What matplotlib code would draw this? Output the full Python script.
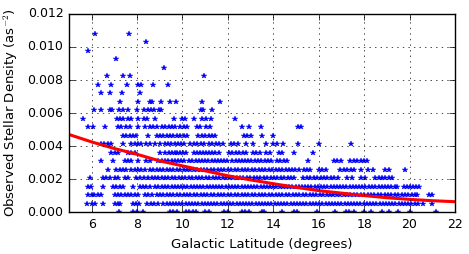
import matplotlib
matplotlib.use("Agg")
import matplotlib.pyplot as plt

# observed densities come in discrete steps (star counts per unit area)
density_levels = [0.0, 0.000515, 0.00103, 0.001545, 0.00206, 0.002575, 0.00309,
                  0.003605, 0.00412, 0.004635, 0.00515, 0.005665, 0.00618,
                  0.006695, 0.00721, 0.007725, 0.00824, 0.008755, 0.00927,
                  0.009785, 0.0103, 0.010815]

# galactic latitude of each field, grouped by density level
lat_lv0 = [7.2, 7.82, 8.0, 8.27, 9.45, 9.6, 9.75, 10.15, 10.3, 10.45, 10.6, 11.0, 11.15,
           11.85, 12.0, 12.6, 12.75, 12.95, 13.5, 13.6, 14.4, 14.9, 15.05, 15.91, 16.7,
           17.2, 17.35, 17.55, 18.0, 18.3, 18.8, 19.1, 19.5, 20.0, 21.15]
lat_lv1 = [5.8, 6.0, 6.15, 6.5, 7.05, 7.16, 7.27, 7.82, 7.97, 8.1, 8.45, 8.6, 8.75, 8.93,
           9.16, 9.3, 9.44, 9.58, 9.72, 9.86, 10.0, 10.14, 10.28, 10.42, 10.56, 10.7,
           10.84, 10.98, 11.12, 11.26, 11.4, 11.54, 11.68, 11.82, 11.96, 12.1, 12.24,
           12.38, 12.52, 12.66, 12.8, 12.94, 13.08, 13.22, 13.36, 13.5, 13.64, 13.78,
           13.92, 14.06, 14.2, 14.34, 14.48, 14.62, 14.76, 14.9, 15.04, 15.18, 15.32,
           15.46, 15.6, 15.74, 15.88, 16.02, 16.16, 16.3, 16.44, 16.58, 16.72, 16.86,
           17.0, 17.14, 17.28, 17.42, 17.56, 17.7, 17.84, 17.98, 18.12, 18.26, 18.4,
           18.54, 18.68, 18.82, 18.96, 19.1, 19.24, 19.38, 19.52, 19.66, 19.8, 19.94,
           20.08, 20.22, 20.36, 20.6, 21.0]
lat_lv2 = [5.85, 6.0, 6.12, 6.3, 6.41, 7.01, 7.15, 7.3, 7.45, 7.6, 7.75, 7.9, 8.04, 8.34,
           8.49, 8.65, 8.86, 9.01, 9.16, 9.3, 9.45, 9.6, 9.75, 9.9, 10.05, 10.2, 10.35,
           10.5, 10.65, 10.8, 10.95, 11.1, 11.25, 11.4, 11.55, 11.7, 11.85, 12.0, 12.15,
           12.3, 12.45, 12.6, 12.75, 12.9, 13.05, 13.2, 13.35, 13.5, 13.65, 13.8, 13.95,
           14.1, 14.25, 14.4, 14.55, 14.7, 14.85, 15.0, 15.15, 15.3, 15.45, 15.6, 15.75,
           15.9, 16.05, 16.2, 16.35, 16.5, 16.65, 16.8, 16.95, 17.1, 17.25, 17.4, 17.55,
           17.7, 17.85, 18.0, 18.15, 18.3, 18.45, 18.6, 18.75, 18.9, 19.05, 19.2, 19.35,
           19.5, 19.65, 19.8, 19.95, 20.1, 20.25, 20.34, 20.86, 21.0]
lat_lv3 = [5.82, 5.97, 6.5, 6.93, 7.08, 7.23, 7.38, 7.8, 8.12, 8.27, 8.41, 8.56, 8.79,
           8.93, 9.08, 9.23, 9.38, 9.52, 9.66, 9.8, 9.94, 10.08, 10.22, 10.36, 10.5,
           10.64, 10.78, 10.92, 11.06, 11.2, 11.34, 11.48, 11.62, 11.76, 11.9, 12.04,
           12.18, 12.32, 12.46, 12.6, 12.74, 12.88, 13.02, 13.16, 13.3, 13.44, 13.58,
           13.72, 13.86, 14.0, 14.14, 14.28, 14.42, 14.56, 14.7, 14.84, 14.98, 15.12,
           15.26, 15.4, 15.54, 15.68, 15.82, 15.96, 16.1, 16.24, 16.38, 16.52, 16.66,
           16.8, 16.94, 17.08, 17.22, 17.36, 17.5, 17.64, 17.78, 17.92, 18.06, 18.2,
           18.34, 18.49, 18.64, 18.78, 18.92, 19.06, 19.2, 19.34, 19.45, 19.75, 19.89,
           20.03, 20.17, 20.3, 20.41]
lat_lv4 = [5.94, 6.49, 6.64, 6.79, 7.01, 7.16, 7.45, 7.6, 7.97, 8.12, 8.31, 8.49, 8.64,
           8.79, 8.93, 9.08, 9.23, 9.38, 9.53, 9.68, 9.83, 9.98, 10.13, 10.28, 10.43,
           10.58, 10.73, 10.88, 11.03, 11.18, 11.33, 11.48, 11.63, 11.78, 11.93, 12.08,
           12.23, 12.38, 12.53, 12.68, 12.83, 12.98, 13.13, 13.28, 13.43, 13.58, 13.73,
           13.88, 14.03, 14.18, 14.33, 14.48, 14.63, 14.78, 14.93, 15.33, 15.48, 15.63,
           15.78, 15.93, 16.08, 16.23, 16.38, 16.53, 16.68, 16.83, 17.26, 17.48, 17.85,
           18.04, 18.49, 18.64, 18.79, 18.94, 19.09, 19.24]
lat_lv5 = [6.74, 7.08, 7.23, 7.38, 7.53, 7.75, 7.9, 8.04, 8.19, 8.34, 8.56, 8.71, 8.86,
           9.01, 9.16, 9.3, 9.45, 9.6, 9.75, 9.9, 10.05, 10.2, 10.35, 10.5, 10.65, 10.8,
           10.95, 11.1, 11.25, 11.4, 11.55, 11.7, 11.85, 12.0, 12.15, 12.3, 12.45, 12.6,
           12.75, 12.9, 13.05, 13.2, 13.35, 13.5, 13.65, 13.8, 13.95, 14.1, 14.25, 14.4,
           14.55, 14.67, 14.82, 14.97, 15.12, 15.35, 15.5, 15.63, 16.0, 16.15, 16.3,
           16.96, 17.11, 17.26, 17.41, 17.56, 17.85, 18.19, 18.41, 18.93, 19.08, 19.82]
lat_lv6 = [6.41, 6.93, 7.45, 7.6, 7.75, 8.04, 8.41, 8.56, 8.93, 9.08, 9.23, 9.38, 9.52,
           9.66, 9.8, 9.94, 10.08, 10.3, 10.44, 10.58, 10.72, 10.86, 11.0, 11.14, 11.28,
           11.42, 11.56, 11.7, 11.84, 11.98, 12.2, 12.34, 12.48, 12.62, 12.76, 12.9,
           13.04, 13.18, 13.32, 13.46, 13.62, 13.75, 13.9, 14.15, 14.3, 14.45, 14.6,
           15.53, 16.67, 16.82, 16.97, 17.4, 17.55, 17.7, 17.85, 18.0, 18.13]
lat_lv7 = [6.86, 7.01, 7.16, 7.6, 7.75, 7.9, 9.01, 9.23, 9.39, 9.52, 9.65, 9.78, 9.91,
           10.04, 10.17, 10.5, 10.63, 10.76, 10.89, 11.02, 11.17, 11.3, 11.45, 11.6,
           12.06, 12.2, 12.35, 12.5, 12.65, 12.8, 13.1, 13.25, 13.4, 13.67, 13.85,
           14.27, 14.37, 14.92, 15.77]
lat_lv8 = [6.41, 6.56, 6.71, 6.86, 7.38, 7.75, 7.9, 8.04, 8.19, 8.41, 8.56, 8.79, 9.01,
           9.23, 9.35, 9.5, 9.65, 9.8, 9.95, 10.06, 10.35, 10.5, 10.65, 10.8, 10.95,
           11.17, 11.32, 11.47, 11.62, 11.77, 12.13, 12.28, 12.43, 12.8, 13.12, 13.7,
           13.97, 14.15, 14.42, 15.08, 16.0, 17.41]
lat_lv9 = [7.38, 7.53, 7.67, 7.82, 7.97, 8.49, 8.86, 9.01, 9.16, 9.3, 9.45, 9.6, 9.75,
           9.9, 10.05, 10.2, 10.7, 10.85, 11.0, 11.15, 11.3, 11.45, 12.7, 12.85, 13.0,
           13.5, 13.97]
lat_lv10 = [5.82, 6.04, 6.61, 7.16, 7.3, 7.53, 7.67, 8.04, 8.34, 8.56, 8.71, 8.86, 9.08,
            9.24, 9.39, 9.54, 9.69, 9.91, 10.06, 10.21, 10.65, 10.77, 11.02, 11.21,
            12.61, 12.95, 13.47, 15.1, 15.21]
lat_lv11 = [5.63, 7.1, 7.25, 7.4, 7.6, 7.72, 8.04, 8.3, 8.45, 8.79, 9.61, 9.98, 10.13,
            10.5, 10.87, 11.02, 11.24, 12.33]
lat_lv12 = [6.12, 6.43, 6.8, 6.9, 7.22, 7.36, 7.62, 8.0, 8.32, 8.5, 8.62, 8.75, 8.95,
            9.07, 10.8, 10.9, 11.32]
lat_lv13 = [7.25, 8.02, 8.55, 8.68, 9.07, 9.47, 9.71, 10.87, 11.65]
lat_lv14 = [6.43, 6.79, 7.33, 8.12]
lat_lv15 = [6.26, 6.85, 7.57, 8.06, 8.18, 8.7, 9.35]
lat_lv16 = [6.66, 7.39, 7.71, 10.93]
lat_lv17 = [9.2]
lat_lv18 = [7.08]
lat_lv19 = [5.85]
lat_lv20 = [8.38]
lat_lv21 = [6.16, 7.65]

lat_by_level = [lat_lv0, lat_lv1, lat_lv2, lat_lv3, lat_lv4, lat_lv5, lat_lv6, lat_lv7,
                lat_lv8, lat_lv9, lat_lv10, lat_lv11, lat_lv12, lat_lv13, lat_lv14,
                lat_lv15, lat_lv16, lat_lv17, lat_lv18, lat_lv19, lat_lv20, lat_lv21]

# fitted model
model_lat = [5, 6, 7, 8, 9, 10, 11, 12, 13, 14, 15, 16, 17, 18, 19, 20, 21, 22]
model_dens = [0.0047, 0.00425, 0.00385, 0.0035, 0.0031, 0.0028, 0.0025, 0.0022,
              0.00195, 0.00172, 0.0015, 0.0013, 0.00115, 0.001, 0.00087, 0.00077,
              0.00069, 0.00063]

plt.style.use('classic')
fig = plt.figure(figsize=(4.69, 2.54), dpi=100)
ax = fig.add_axes([0.147, 0.165, 0.823, 0.78])

for lev, lats in zip(density_levels, lat_by_level):
    ax.plot(lats, [lev] * len(lats), 'b*', markersize=4, markeredgecolor='b',
            markeredgewidth=0.3)

ax.plot(model_lat, model_dens, 'r-', linewidth=2.2)

ax.set_xlim(5, 22)
ax.set_ylim(0, 0.012)
ax.set_xticks(range(6, 23, 2))
ax.set_yticks([0.0, 0.002, 0.004, 0.006, 0.008, 0.010, 0.012])
ax.set_yticklabels(['0.000', '0.002', '0.004', '0.006', '0.008', '0.010', '0.012'])
ax.tick_params(labelsize=9)
ax.grid(True)
ax.set_xlabel('Galactic Latitude (degrees)', fontsize=9.5)
ax.set_ylabel('Observed Stellar Density (as$^{-2}$)', fontsize=9.5)

fig.savefig('out.png', dpi=100)
